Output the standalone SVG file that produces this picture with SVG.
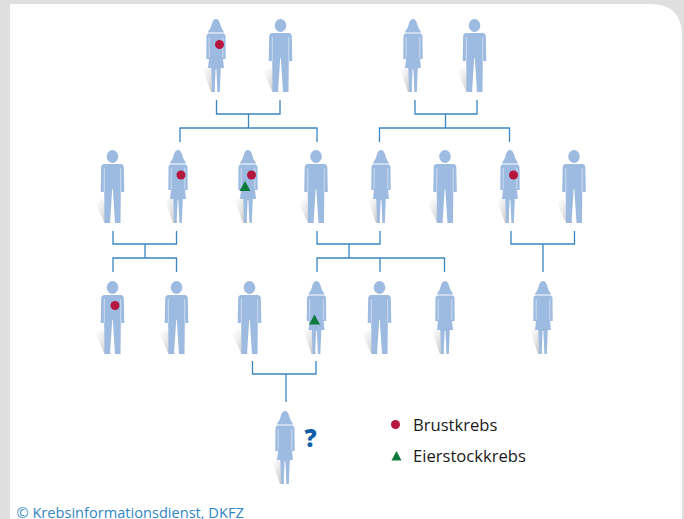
<svg xmlns="http://www.w3.org/2000/svg" width="684" height="519" viewBox="0 0 684 519">
<style>
.p{fill:#9dbae0}
.l{fill:none;stroke:#d3e0f2;stroke-width:.9}
.c{fill:none;stroke:#3a86c2;stroke-width:1.3}
.t{font-family:"Open Sans","Noto Sans",sans-serif;font-size:16.600px;fill:#1a1a1a}
.r{fill:#b5173f}
.g{fill:#0b7a3b}
.s{fill:url(#sh)}
</style>
<defs>
<linearGradient id="sh" x1="1" y1="1" x2="0" y2="0">
<stop offset="0" stop-color="#888" stop-opacity=".6"/>
<stop offset="1" stop-color="#ccc" stop-opacity="0"/>
</linearGradient>
<symbol id="f" overflow="visible" viewBox="-30 0 60 80" width="60" height="80">
<path class="s" d="M-13 50L-5 73L-1 73L-6 47Z"/>
<path class="p" d="M0 0C-2.500 0-3.800 3-4.500 6C-5 9-7 11-8.300 13.500L8.300 13.500C7 11 5 9 4.500 6C3.800 3 2.500 0 0 0Z"/>
<path class="p" d="M-7 14.500L7 14.500C8.500 14.500 9.300 15.500 9.500 17L9.700 40L7 40L8 49L4.800 49L3.800 73L1.400 73L.4 50L-.4 50L-1.400 73L-3.800 73L-4.800 49L-8 49L-7 40L-9.700 40L-9.500 17C-9.300 15.500-8.500 14.500-7 14.500Z"/>
<path class="l" d="M-6.800 18V39M6.800 18V39"/>
</symbol>
<symbol id="m" overflow="visible" viewBox="-30 0 60 80" width="60" height="80">
<path class="s" d="M-17 53L-8 73L-2 73L-10 48Z"/>
<ellipse class="p" cx="0" cy="6.500" rx="5.800" ry="6.500"/>
<path class="p" d="M-8 14L8 14C10 14 11 15 11.300 17L11.800 42L8.300 42L8 73L2.500 73L.3 39L-.3 39L-2.500 73L-8 73L-8.300 42L-11.800 42L-11.300 17C-11 15-10 14-8 14Z"/>
<path class="l" d="M-8.200 18V42M8.200 18V42"/>
</symbol>
</defs>
<rect id="bg" width="684" height="519" fill="#dfdfdf"/>
<path id="card" d="M10 519V4H650Q682 4 682 36V519Z" fill="#fff"/>
<g id="connectors" class="c">
<path d="M216.500 100V114H280V100M248.500 114V128M180 142V128H317V142"/>
<path d="M415 100V114H477V100M445.500 114V128M379.500 142V128H509.500V142"/>
<path d="M113 231V244H176.500V231M145 244V258M113 272V258H176.500V272"/>
<path d="M317 231V244H380V231M349 244V258M317 272V258H444.500V272M380 258V272"/>
<path d="M511 231V244H574.500V231M543 244V272"/>
<path d="M252.500 361V374H316V361M286 374V402"/>
</g>
<use id="p1" href="#f" x="186" y="19"/>
<use id="p2" href="#m" x="250.500" y="19"/>
<use id="p3" href="#f" x="383" y="19"/>
<use id="p4" href="#m" x="444.500" y="19"/>
<use id="p5" href="#m" x="82.500" y="150"/>
<use id="p6" href="#f" x="148" y="150"/>
<use id="p7" href="#f" x="218" y="150"/>
<use id="p8" href="#m" x="286" y="150"/>
<use id="p9" href="#f" x="351" y="150"/>
<use id="p10" href="#m" x="415" y="150"/>
<use id="p11" href="#f" x="480" y="150"/>
<use id="p12" href="#m" x="544" y="150"/>
<use id="p13" href="#m" x="82.500" y="281"/>
<use id="p14" href="#m" x="146.500" y="281"/>
<use id="p15" href="#m" x="219.500" y="281"/>
<use id="p16" href="#f" x="286.500" y="281"/>
<use id="p17" href="#m" x="349.500" y="281"/>
<use id="p18" href="#f" x="415" y="281"/>
<use id="p19" href="#f" x="513" y="281"/>
<use id="p20" href="#f" x="255" y="411"/>
<g id="markers">
<circle class="r" cx="219.500" cy="44.500" r="4.500"/>
<circle class="r" cx="181" cy="175" r="4.500"/>
<circle class="r" cx="251.500" cy="175" r="4.500"/>
<circle class="r" cx="513.500" cy="175" r="4.500"/>
<circle class="r" cx="115" cy="305.500" r="4.500"/>
<path class="g" d="M245 181L250.500 191H239.500Z"/>
<path class="g" d="M314.500 314.500L320 324.500H309Z"/>
</g>
<text id="q" x="304.500" y="447" font-family="'Open Sans',sans-serif" font-weight="800" font-size="24" fill="#0b5ea8">?</text>
<g id="legend">
<circle class="r" cx="395.500" cy="424.500" r="4.500"/>
<path class="g" d="M396.500 451L401.500 460.500H391.500Z"/>
<text class="t" x="413" y="431">Brustkrebs</text>
<text class="t" x="413" y="462">Eierstockkrebs</text>
</g>
<text id="copyright" x="16.500" y="518" font-family="'Open Sans',sans-serif" font-size="14.600" fill="#2f86c5">© Krebsinformationsdienst, DKFZ</text>
</svg>
